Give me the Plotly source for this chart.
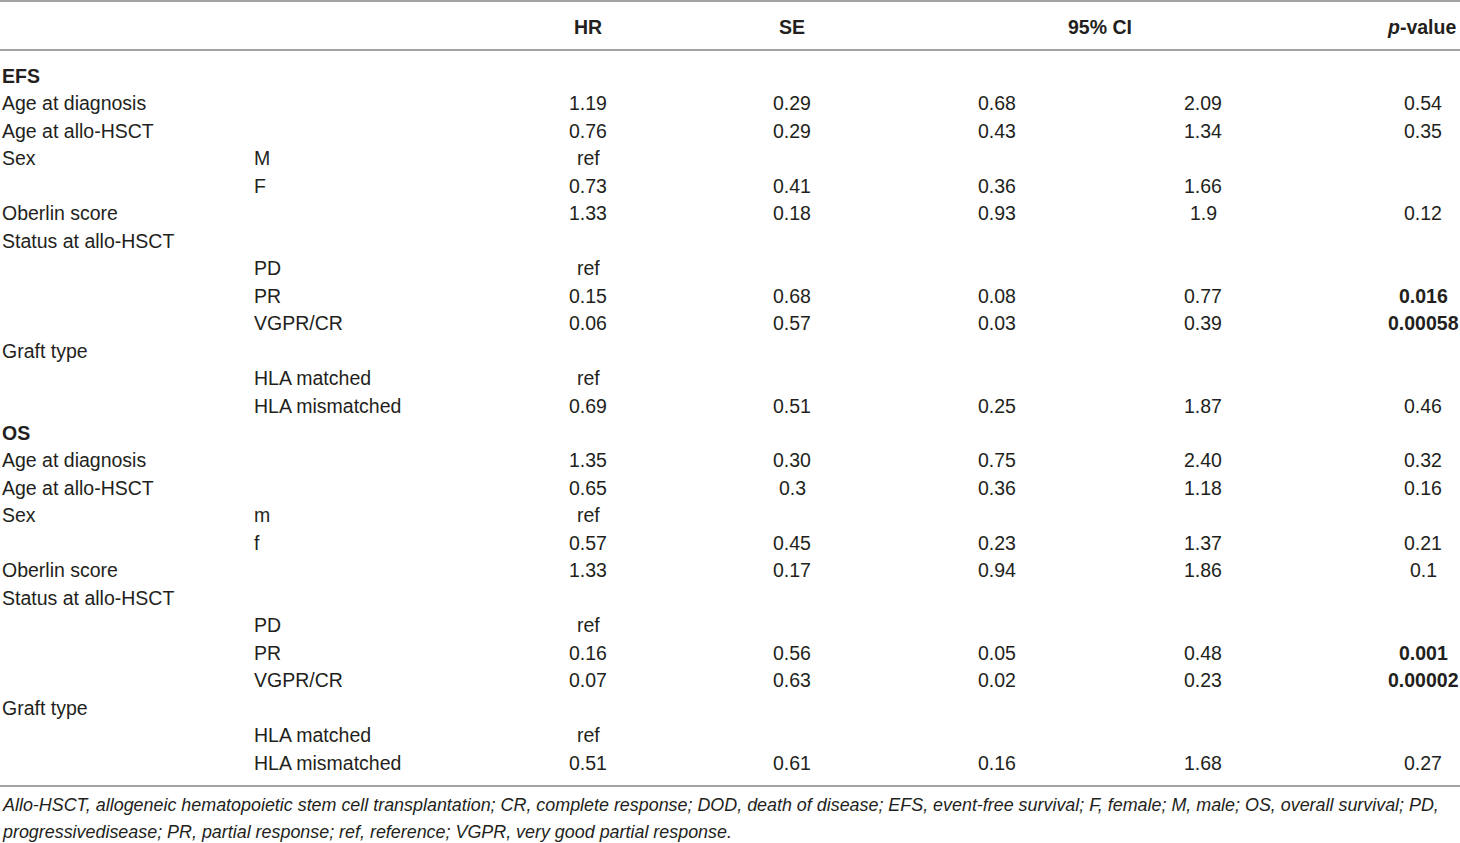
"""
    Cox regression table for EFS and OS, redrawn as a plotly figure
"""

##########==========##########==========##########==========##########==========
## INITIALIZE ENVIRONMENT

## libraries
import plotly.graph_objects as go

## data
headers = ['', '', '<b>HR</b>', '<b>SE</b>', '<b>95% CI</b>', '<b><i>p</i>-value</b>']

variables = [
    'EFS', 'Age at diagnosis', 'Age at allo-HSCT', 'Sex', '', 'Oberlin score',
    'Status at allo-HSCT', '', '', '', 'Graft type', '', '',
    'OS', 'Age at diagnosis', 'Age at allo-HSCT', 'Sex', '', 'Oberlin score',
    'Status at allo-HSCT', '', '', '', 'Graft type', '', '',
]
levels = [
    '', '', '', 'M', 'F', '', '', 'PD', 'PR', 'VGPR/CR', '', 'HLA matched',
    'HLA mismatched',
    '', '', '', 'm', 'f', '', '', 'PD', 'PR', 'VGPR/CR', '', 'HLA matched',
    'HLA mismatched',
]
hr = [
    '', '1.19', '0.76', 'ref', '0.73', '1.33', '', 'ref', '0.15', '0.06', '',
    'ref', '0.69',
    '', '1.35', '0.65', 'ref', '0.57', '1.33', '', 'ref', '0.16', '0.07', '',
    'ref', '0.51',
]
se = [
    '', '0.29', '0.29', '', '0.41', '0.18', '', '', '0.68', '0.57', '', '',
    '0.51',
    '', '0.30', '0.3', '', '0.45', '0.17', '', '', '0.56', '0.63', '', '',
    '0.61',
]
ci_low = [
    '', '0.68', '0.43', '', '0.36', '0.93', '', '', '0.08', '0.03', '', '',
    '0.25',
    '', '0.75', '0.36', '', '0.23', '0.94', '', '', '0.05', '0.02', '', '',
    '0.16',
]
ci_high = [
    '', '2.09', '1.34', '', '1.66', '1.9', '', '', '0.77', '0.39', '', '',
    '1.87',
    '', '2.40', '1.18', '', '1.37', '1.86', '', '', '0.48', '0.23', '', '',
    '1.68',
]
p_value = [
    '', '0.54', '0.35', '', '', '0.12', '', '', '0.016', '0.00058', '', '',
    '0.46',
    '', '0.32', '0.16', '', '0.21', '0.1', '', '', '0.001', '0.00002', '', '',
    '0.27',
]
p_bold = [
    False, False, False, False, False, False, False, False, True, True, False,
    False, False,
    False, False, False, False, False, False, False, False, True, True, False,
    False, False,
]
section_rows = [0, 13]

footnote = [
    'Allo-HSCT, allogeneic hematopoietic stem cell transplantation; CR, '
    'complete response; DOD, death of disease; EFS, event-free survival; '
    'F, female; M, male; OS, overall survival; PD,',
    'progressivedisease; PR, partial response; ref, reference; VGPR, very '
    'good partial response.',
]

## parameters
params = {
    'width': 1460, 'height': 843,
    'font': 'Liberation Sans', 'size': 19.5, 'color': '#231f20',
    'rule_color': '#a3a3a3',
    'row0': 76, 'row_step': 27.46, 'header_y': 27,
    'rules_y': [1, 50, 786],
    'foot_y': [805, 832], 'foot_size': 17.9,
}

##########==========##########==========##########==========##########==========
## DEFINE DRAWING FUNCTIONS


def row_y(i):
    return params['row0'] + i * params['row_step']


def draw_background():
    """
        Blank canvas with pixel-scaled axes
    """
    global fig
    fig = go.Figure()
    fig.update_layout(
        width = params['width'], height = params['height'],
        margin = dict(l = 0, r = 0, t = 0, b = 0),
        paper_bgcolor = 'white', plot_bgcolor = 'white',
        showlegend = False,
        font = dict(family = params['font'], size = params['size'],
                    color = params['color']),
    )
    fig.update_xaxes(visible = False, range = [0, params['width']])
    fig.update_yaxes(visible = False, range = [params['height'], 0])
    for y in params['rules_y']:
        fig.add_shape(type = 'line', xref = 'x', yref = 'y',
                      x0 = 0, x1 = params['width'], y0 = y, y1 = y,
                      line = dict(color = params['rule_color'], width = 2))


def add_text(x, y, text, anchor = 'left', size = None):
    fig.add_annotation(
        x = x, y = y, xref = 'x', yref = 'y', text = text,
        showarrow = False, xanchor = anchor, yanchor = 'middle',
        font = dict(size = size or params['size']),
    )


def draw_column(values, x, anchor, bold = None):
    for i, v in enumerate(values):
        if not v:
            continue
        if bold is not None and bold[i]:
            v = '<b>' + v + '</b>'
        add_text(x, row_y(i), v, anchor)


def draw_table():
    ## header
    hx = [(0, 'left'), (252, 'left'), (588, 'center'), (792, 'center'),
          (1100, 'center'), (1458, 'right')]
    for h, (x, a) in zip(headers, hx):
        if h:
            add_text(x, params['header_y'], h, a)

    ## body
    first = [('<b>' + v + '</b>') if i in section_rows else v
             for i, v in enumerate(variables)]
    draw_column(first, 0, 'left')
    draw_column(levels, 252, 'left')
    draw_column(hr, 588, 'center')
    draw_column(se, 792, 'center')
    draw_column(ci_low, 997, 'center')
    draw_column(ci_high, 1203, 'center')
    draw_column(p_value, 1423, 'center', p_bold)

    ## footnote
    for line, y in zip(footnote, params['foot_y']):
        add_text(0, y, '<i>' + line + '</i>', 'left', params['foot_size'])


##########==========##########==========##########==========##########==========
## EXECUTE FUNCTIONS

if __name__ == '__main__':

    draw_background()
    draw_table()

    ## drop the default page margin so the figure sits at the top-left corner
    fig.write_html('out.html',
                   config = {'displayModeBar': False},
                   post_script = "document.body.style.margin = '0px';")

##########==========##########==========##########==========##########==========
